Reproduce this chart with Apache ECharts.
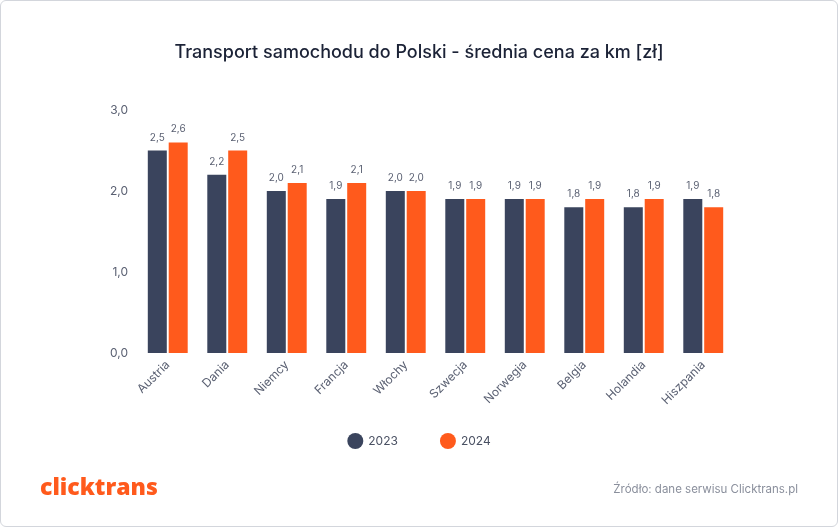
<!DOCTYPE html>
<html><head><meta charset="utf-8">
<script src="https://cdn.jsdelivr.net/npm/echarts@6/dist/echarts.min.js"></script>
<style>
html,body{margin:0;padding:0;background:#fff;}
#frame{position:absolute;left:0;top:0;width:836px;height:525px;border:1px solid #d3d6dc;border-radius:6px;overflow:hidden;}
#c{width:836px;height:525px;}
</style></head><body>
<div id="frame"><div id="c"></div></div>
<script>
const categories = ['Austria','Dania','Niemcy','Francja','Włochy','Szwecja','Norwegia','Belgia','Holandia','Hiszpania'];
const values2023 = [2.5,2.2,2.0,1.9,2.0,1.9,1.9,1.8,1.8,1.9];
const values2024 = [2.6,2.5,2.1,2.1,2.0,1.9,1.9,1.9,1.9,1.8];
const seriesNames = ['2023','2024'];
const yTicks = [0,1,2,3];

const fmt = v => v.toFixed(1).replace('.', ',');
const chart = echarts.init(document.getElementById('c'));
const font = 'Inter, "Noto Sans", sans-serif';
chart.setOption({
  animation:false,
  textStyle:{fontFamily:font},
  title:{text:'Transport samochodu do Polski - średnia cena za km [zł]',left:'center',top:38,
    textStyle:{fontFamily:font,fontSize:18,fontWeight:500,color:'#1b2236'}},
  legend:{top:427,left:'center',itemGap:42,icon:'circle',itemWidth:16,itemHeight:16,
    textStyle:{fontFamily:font,fontSize:12,color:'#4a5163'}},
  grid:{left:137,right:104,top:109,bottom:173,containLabel:false},
  xAxis:{type:'category',data:categories,
    axisLine:{show:false},axisTick:{show:false},
    axisLabel:{rotate:45,margin:10,fontSize:12,color:'#5a6072',fontFamily:font}},
  yAxis:{type:'value',min:0,max:3,interval:1,
    splitLine:{show:false},axisLine:{show:false},axisTick:{show:false},
    axisLabel:{formatter:v=>fmt(v),fontSize:12,color:'#5a6072',margin:10,fontFamily:font}},
  series:[
    {name:seriesNames[0],type:'bar',data:values2023,barWidth:19,barGap:'10%',
     itemStyle:{color:'#3a445d'},
     label:{show:true,position:'top',distance:8,formatter:p=>fmt(p.value),fontSize:10,color:'#5a6072'}},
    {name:seriesNames[1],type:'bar',data:values2024,barWidth:19,
     itemStyle:{color:'#ff5a1c'},
     label:{show:true,position:'top',distance:8,formatter:p=>fmt(p.value),fontSize:10,color:'#5a6072'}}
  ],
  graphic:[
    {type:'text',left:39,top:476,style:{text:'clicktrans',fontFamily:'"Open Sans", sans-serif',fontWeight:800,fontSize:23,fill:'#ff5a1c'}},
    {type:'text',right:39,top:483,style:{text:'Źródło: dane serwisu Clicktrans.pl',fontFamily:font,fontSize:11.5,fill:'#8a8f9c'}}
  ]
});
</script></body></html>
